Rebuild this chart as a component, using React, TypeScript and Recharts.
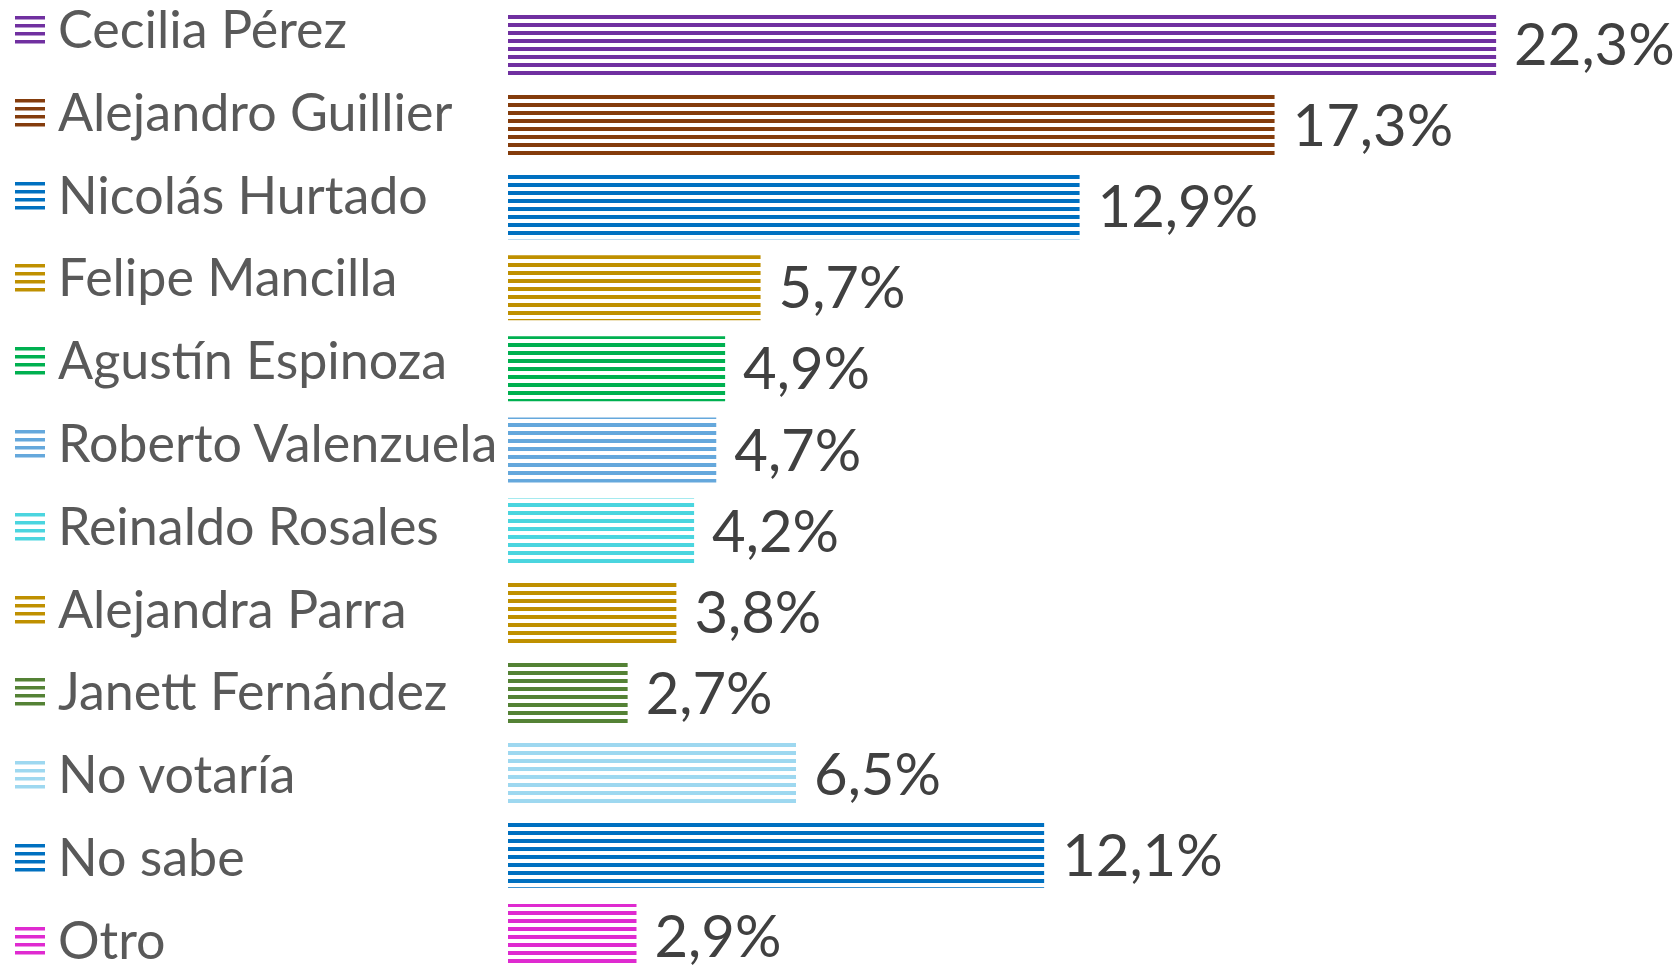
// Intención de voto: barras horizontales rayadas con leyenda a la izquierda
import { Bar, BarChart, Cell, LabelList, Legend, XAxis, YAxis } from 'recharts';

const CANDIDATES = [
  'Cecilia Pérez', 'Alejandro Guillier', 'Nicolás Hurtado', 'Felipe Mancilla',
  'Agustín Espinoza', 'Roberto Valenzuela', 'Reinaldo Rosales', 'Alejandra Parra',
  'Janett Fernández', 'No votaría', 'No sabe', 'Otro',
];
const VALUES = [22.3, 17.3, 12.9, 5.7, 4.9, 4.7, 4.2, 3.8, 2.7, 6.5, 12.1, 2.9];
const COLORS = [
  '#7030A0', '#843C0C', '#0070C0', '#BF9000', '#00B050', '#65A8DC',
  '#4BD5DF', '#BF9000', '#548235', '#9ED8F0', '#0070C0', '#DF2AD0',
];

const FONT = 'Lato, "Open Sans", sans-serif';
const data = CANDIDATES.map((name, i) => ({ name, value: VALUES[i] }));
const fmt = (v: any) => `${Number(v).toFixed(1).replace('.', ',')}%`;

function LegendBlock() {
  return (
    <div style={{ position: 'relative', width: 500, height: 967, fontFamily: FONT }}>
      {CANDIDATES.map((name, i) => (
        <div key={name} style={{
          position: 'absolute', left: 15, top: 28 + 82.8 * i - 25, height: 50,
          display: 'flex', alignItems: 'center', whiteSpace: 'nowrap',
        }}>
          <svg width={30} height={28} style={{ marginRight: 13, marginTop: 4 }}>
            {[0, 8, 16, 24].map(y => <rect key={y} x={0} y={y} width={30} height={3.5} fill={COLORS[i]} />)}
          </svg>
          <span style={{ fontSize: 52, color: '#595959', lineHeight: '50px' }}>{name}</span>
        </div>
      ))}
    </div>
  );
}

export default function App() {
  return (
    <div style={{ position: 'absolute', left: 0, top: 0, background: '#fff' }}>
      <BarChart width={1680} height={967} data={data} layout="vertical"
        margin={{ top: 4, right: 0, bottom: -10, left: 8 }} barSize={65}>
        <defs>
          {COLORS.map((c, i) => (
            <pattern key={i} id={`stripe-${i}`} patternUnits="userSpaceOnUse" x={0} y={7} width={8} height={8}>
              <rect x={0} y={0} width={8} height={4} fill={c} />
            </pattern>
          ))}
        </defs>
        <XAxis type="number" hide domain={[0, 26.45]} allowDataOverflow />
        <YAxis type="category" dataKey="name" hide />
        <Legend layout="vertical" align="left" verticalAlign="top"
          wrapperStyle={{ left: 0, top: 0 }} content={() => <LegendBlock />} />
        <Bar dataKey="value" isAnimationActive={false}>
          {data.map((_, i) => <Cell key={i} fill={`url(#stripe-${i})`} />)}
          <LabelList dataKey="value" position="right" offset={18} formatter={fmt}
            fill="#404040" fontSize={58} fontFamily={FONT} />
        </Bar>
      </BarChart>
    </div>
  );
}
